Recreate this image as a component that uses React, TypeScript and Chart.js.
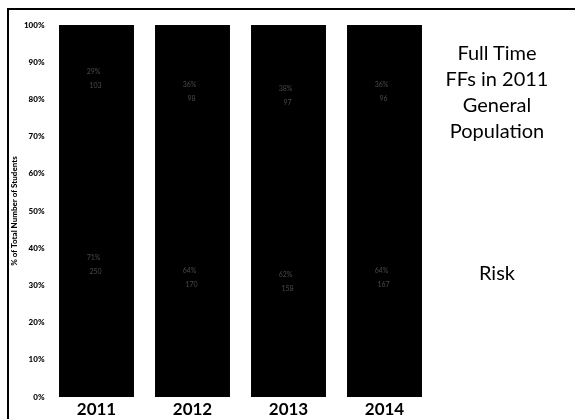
import React, { useEffect, useRef } from "react";
import { Chart, registerables } from "chart.js";

Chart.register(...registerables);

const categories = ["2011", "2012", "2013", "2014"];
const riskPct = [71, 64, 62, 64];
const generalPct = [29, 36, 38, 36];
const riskCounts = ["250", "170", "158", "167"];
const generalCounts = ["103", "98", "97", "96"];
const yTicks = [0, 10, 20, 30, 40, 50, 60, 70, 80, 90, 100];
const legendTop = ["Full Time", "FFs in 2011", "General", "Population"];
const legendBottom = ["Risk"];

const FONT = "Lato, 'Open Sans', sans-serif";

const labelPlugin = {
  id: "segLabels",
  afterDatasetsDraw(chart: any) {
    const ctx = chart.ctx;
    const counts = [riskCounts, generalCounts];
    ctx.save();
    ctx.fillStyle = "#4a4a4a";
    ctx.font = `7px ${FONT}`;
    ctx.textAlign = "center";
    ctx.textBaseline = "middle";
    chart.data.datasets.forEach((ds: any, di: number) => {
      const meta = chart.getDatasetMeta(di);
      meta.data.forEach((bar: any, i: number) => {
        const cy = (bar.y + bar.base) / 2;
        ctx.fillText(ds.data[i] + "%", bar.x - 3, cy - 7);
        ctx.fillText(counts[di][i], bar.x - 1, cy + 7);
      });
    });
    ctx.restore();
  },
};

export default function App() {
  const ref = useRef<HTMLCanvasElement>(null);
  useEffect(() => {
    document.body.style.margin = "0";
    const chart = new Chart(ref.current!, {
      type: "bar",
      data: {
        labels: categories,
        datasets: [
          { label: "Risk", data: riskPct, backgroundColor: "#000", borderWidth: 0, inflateAmount: 1 },
          { label: "General Population", data: generalPct, backgroundColor: "#000", borderWidth: 0, inflateAmount: 1 },
        ],
      },
      options: {
        responsive: false,
        animation: false,
        layout: { padding: { left: 0, top: 25, right: 142.5, bottom: 0 } },
        plugins: { legend: { display: false }, tooltip: { enabled: false } },
        datasets: { bar: { barPercentage: 0.76, categoryPercentage: 1 } },
        scales: {
          x: {
            stacked: true,
            grid: { display: false, drawTicks: false },
            border: { display: false },
            ticks: { color: "#000", font: { family: FONT, size: 17, weight: "bold" }, padding: 2 },
            afterFit: (s: any) => { s.height = 22; },
          },
          y: {
            stacked: true,
            min: 0,
            max: 100,
            afterBuildTicks: (s: any) => { s.ticks = yTicks.map((v) => ({ value: v })); },
            grid: { display: false, drawTicks: false },
            border: { display: false },
            ticks: {
              color: "#000",
              font: { family: FONT, size: 8, weight: "900" },
              padding: 4,
              callback: (v: any) => v + "%",
            },
            title: {
              display: true,
              text: "% of Total Number of Students",
              color: "#000",
              font: { family: FONT, size: 8, weight: "900" },
              padding: { top: 10, bottom: 0 },
            },
            afterFit: (s: any) => { s.width = 48.5; },
          },
        },
      },
      plugins: [labelPlugin],
    });
    return () => chart.destroy();
  }, []);

  const textStyle: React.CSSProperties = {
    position: "absolute",
    left: 427,
    width: 140,
    textAlign: "center",
    fontFamily: FONT,
    fontSize: 20,
    lineHeight: "26px",
    color: "#000",
  };

  return (
    <div style={{ position: "relative", width: 575, height: 419, background: "#fff", overflow: "hidden" }}>
      <div style={{ position: "absolute", left: 7, top: 8, width: 600, height: 500, borderTop: "2px solid #000", borderLeft: "2px solid #000" }} />
      <canvas ref={ref} width={575} height={419} style={{ position: "absolute", left: 0, top: 0 }} />
      <div style={{ ...textStyle, top: 39 }}>
        {legendTop.map((t) => (<div key={t}>{t}</div>))}
      </div>
      <div style={{ ...textStyle, top: 259 }}>
        {legendBottom.map((t) => (<div key={t}>{t}</div>))}
      </div>
    </div>
  );
}
